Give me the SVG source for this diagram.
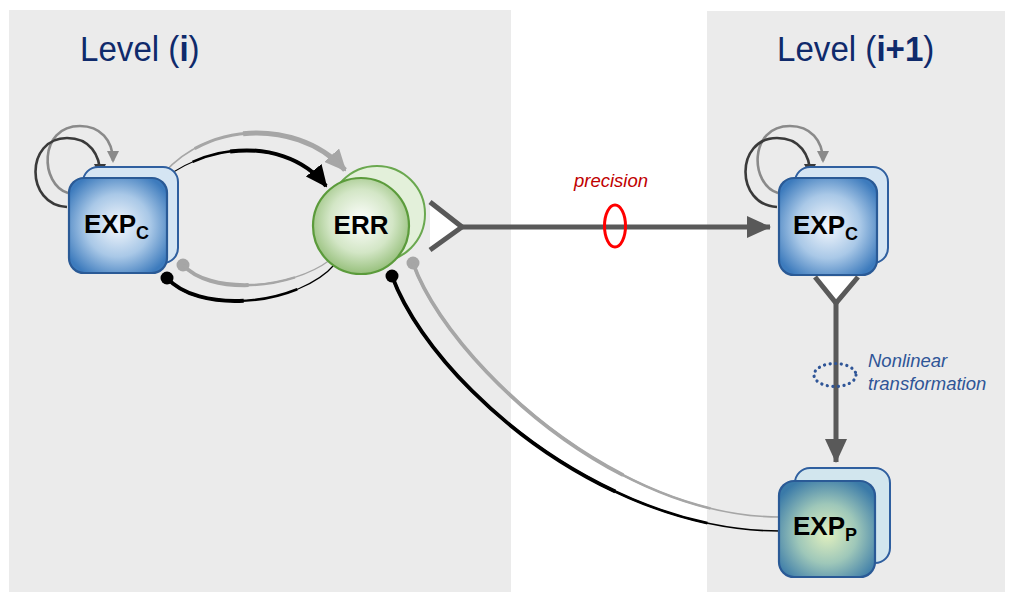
<svg xmlns="http://www.w3.org/2000/svg" width="1010" height="596" viewBox="0 0 1010 596">
<defs>
<style>
.panel{fill:#ebebeb}
.lvl{font-family:"Liberation Sans",Arial,sans-serif;font-size:36px;fill:#0f2a6b}
.nd{font-family:"Liberation Sans",Arial,sans-serif;font-weight:bold;fill:#000}
.big{font-size:26px}
.sub{font-size:18px}
.back{stroke:#2f5f9f;stroke-width:2}
.front{stroke:#2a5a96;stroke-width:2.2}
.loopd{fill:none;stroke:#3a3a3a;stroke-width:2.6}
.loopg{fill:none;stroke:#8a8a8a;stroke-width:2.6}
.main{fill:none;stroke:#595959;stroke-width:5}
.g{fill:none;stroke:#a6a6a6}
.k{fill:none;stroke:#000}
</style>
<radialGradient id="gBlue" cx="0.5" cy="0.5" r="0.6">
<stop offset="0" stop-color="#f4f8fd"/>
<stop offset="0.55" stop-color="#a9c8e7"/>
<stop offset="1" stop-color="#3d7bbd"/>
</radialGradient>
<radialGradient id="gP" cx="0.5" cy="0.55" r="0.62">
<stop offset="0" stop-color="#e2f0bf"/>
<stop offset="0.5" stop-color="#9ec7b9"/>
<stop offset="1" stop-color="#3a7aa8"/>
</radialGradient>
<radialGradient id="gG" cx="0.5" cy="0.45" r="0.55">
<stop offset="0" stop-color="#ffffff"/>
<stop offset="0.6" stop-color="#d3e6c6"/>
<stop offset="1" stop-color="#97c07c"/>
</radialGradient>
<marker id="ahG" markerUnits="userSpaceOnUse" viewBox="0 0 22 20" refX="20" refY="10" markerWidth="22" markerHeight="20" orient="auto"><path d="M0,0 L22,10 L0,20 z" fill="#a6a6a6"/></marker>
<marker id="ahB" markerUnits="userSpaceOnUse" viewBox="0 0 22 20" refX="20" refY="10" markerWidth="22" markerHeight="20" orient="auto"><path d="M0,0 L22,10 L0,20 z" fill="#000"/></marker>
<marker id="ahLd" markerUnits="userSpaceOnUse" viewBox="0 0 12 12" refX="10" refY="6" markerWidth="12" markerHeight="12" orient="auto"><path d="M0,0 L12,6 L0,12 z" fill="#3a3a3a"/></marker>
<marker id="ahLg" markerUnits="userSpaceOnUse" viewBox="0 0 12 12" refX="10" refY="6" markerWidth="12" markerHeight="12" orient="auto"><path d="M0,0 L12,6 L0,12 z" fill="#8a8a8a"/></marker>
<marker id="ahM" markerUnits="userSpaceOnUse" viewBox="0 0 24 22" refX="23" refY="11" markerWidth="24" markerHeight="22" orient="auto"><path d="M0,0 L24,11 L0,22 z" fill="#595959"/></marker>
<marker id="dotB" markerUnits="userSpaceOnUse" viewBox="0 0 14 14" refX="7" refY="7" markerWidth="14" markerHeight="14"><circle cx="7" cy="7" r="6.5" fill="#000"/></marker>
<marker id="dotG" markerUnits="userSpaceOnUse" viewBox="0 0 14 14" refX="7" refY="7" markerWidth="14" markerHeight="14"><circle cx="7" cy="7" r="6.5" fill="#a6a6a6"/></marker>
</defs>
<rect width="1010" height="596" fill="#ffffff"/>
<g id="panels">
<rect class="panel" x="9" y="10" width="502" height="582"/>
<rect class="panel" x="707" y="11" width="298" height="581"/>
<text class="lvl" transform="translate(80,61) scale(0.92,1)">Level (<tspan font-weight="bold">i</tspan>)</text>
<text class="lvl" transform="translate(777,61) scale(0.92,1)">Level (<tspan font-weight="bold">i+1</tspan>)</text>
</g>
<g id="connectors">
<path class="loopg" d="M68 193 C40 185 38 126 80 126 C100 126 113 140 113 161" marker-end="url(#ahLg)"/>
<path class="loopd" d="M67 207 C25 205 25 138 67 138 C90 138 100 155 100 174" marker-end="url(#ahLd)"/>
<path class="loopg" d="M778 193 C750 185 748 126 790 126 C810 126 823 140 823 161" marker-end="url(#ahLg)"/>
<path class="loopd" d="M777 207 C735 205 735 138 777 138 C800 138 810 155 810 174" marker-end="url(#ahLd)"/>
<path class="g" stroke-width="1.5" d="M163 174 C210 120 300 120 345 170" marker-end="url(#ahG)"/>
<path class="g" stroke-width="3" pathLength="100" stroke-dasharray="0 20 80 0" d="M163 174 C210 120 300 120 345 170"/>
<path class="g" stroke-width="5" pathLength="100" stroke-dasharray="0 45 55 0" d="M163 174 C210 120 300 120 345 170"/>
<path class="k" stroke-width="1.2" d="M165 178 C215 140 290 140 326 186" marker-end="url(#ahB)"/>
<path class="k" stroke-width="2.5" pathLength="100" stroke-dasharray="0 18 82 0" d="M165 178 C215 140 290 140 326 186"/>
<path class="k" stroke-width="4" pathLength="100" stroke-dasharray="0 40 60 0" d="M165 178 C215 140 290 140 326 186"/>
<path class="g" stroke-width="1.2" d="M183 265 C210 295 290 290 330 260" marker-start="url(#dotG)"/>
<path class="g" stroke-width="2.5" pathLength="100" stroke-dasharray="75 25" d="M183 265 C210 295 290 290 330 260"/>
<path class="g" stroke-width="4" pathLength="100" stroke-dasharray="45 55" d="M183 265 C210 295 290 290 330 260"/>
<path class="k" stroke-width="1.2" d="M167 278 C200 315 300 305 335 264" marker-start="url(#dotB)"/>
<path class="k" stroke-width="2.5" pathLength="100" stroke-dasharray="75 25" d="M167 278 C200 315 300 305 335 264"/>
<path class="k" stroke-width="4" pathLength="100" stroke-dasharray="45 55" d="M167 278 C200 315 300 305 335 264"/>
<path class="g" stroke-width="1.6" d="M413 263 C445 355 610 517 780 517" marker-start="url(#dotG)"/>
<path class="g" stroke-width="2.6" pathLength="100" stroke-dasharray="85 15" d="M413 263 C445 355 610 517 780 517"/>
<path class="g" stroke-width="3.8" pathLength="100" stroke-dasharray="65 35" d="M413 263 C445 355 610 517 780 517"/>
<path class="k" stroke-width="1.6" d="M392 276 C430 380 600 531 780 531" marker-start="url(#dotB)"/>
<path class="k" stroke-width="2.6" pathLength="100" stroke-dasharray="85 15" d="M392 276 C430 380 600 531 780 531"/>
<path class="k" stroke-width="3.8" pathLength="100" stroke-dasharray="65 35" d="M392 276 C430 380 600 531 780 531"/>
<path d="M430 202 L462 227 L430 250 z" fill="#ffffff"/>
<path class="main" d="M430 202 L462 227 L430 250"/>
<path class="main" d="M462 227 L770 227" marker-end="url(#ahM)"/>
<ellipse cx="615" cy="226" rx="10.5" ry="21" fill="none" stroke="#ff0000" stroke-width="3"/>
<text x="611" y="187" text-anchor="middle" font-family="'Liberation Sans',Arial,sans-serif" font-style="italic" font-size="18.5" fill="#c00000">precision</text>
<path d="M815 277 L836 303 L858 277 z" fill="#ffffff"/>
<path class="main" d="M815 277 L836 303 L858 277"/>
<path class="main" d="M836 303 L836 462" marker-end="url(#ahM)"/>
<ellipse cx="835" cy="375" rx="21" ry="11.5" fill="none" stroke="#2f5597" stroke-width="3.2" stroke-dasharray="0.1 5.5" stroke-linecap="round"/>
<text font-family="'Liberation Sans',Arial,sans-serif" font-style="italic" font-size="18.5" fill="#2f5597"><tspan x="868" y="367">Nonlinear</tspan><tspan x="868" y="390">transformation</tspan></text>
</g>
<g id="exp_c_i">
<rect class="back" x="83" y="167" width="95" height="96" rx="15" fill="#d5e5f3"/>
<rect class="front" x="69" y="178" width="98" height="95" rx="15" fill="url(#gBlue)"/>
<text class="nd big" x="84" y="233">EXP<tspan class="sub" dy="6">C</tspan></text>
</g>
<g id="err">
<circle cx="377" cy="214" r="48" fill="#e3f0da" stroke="#6aa84f" stroke-width="2"/>
<circle cx="361" cy="226" r="48" fill="url(#gG)" stroke="#5b9b3b" stroke-width="2.2"/>
<text class="nd big" x="361" y="234" text-anchor="middle">ERR</text>
</g>
<g id="exp_c_i1">
<rect class="back" x="795" y="167" width="93" height="96" rx="15" fill="#d5e5f3"/>
<rect class="front" x="779" y="178" width="98" height="97" rx="15" fill="url(#gBlue)"/>
<text class="nd big" x="793" y="234">EXP<tspan class="sub" dy="6">C</tspan></text>
</g>
<g id="exp_p">
<rect class="back" x="795" y="468" width="95" height="95" rx="15" fill="#d2e6ee"/>
<rect class="front" x="779" y="481" width="96" height="96" rx="15" fill="url(#gP)"/>
<text class="nd big" x="793" y="535">EXP<tspan class="sub" dy="6">P</tspan></text>
</g>
</svg>
